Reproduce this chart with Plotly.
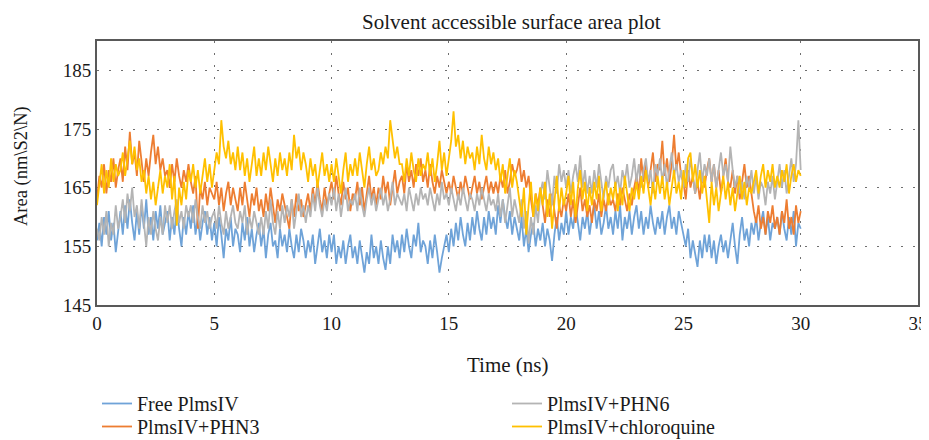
import plotly.graph_objects as go

free_plmsiv = [
    156, 159, 155, 160, 157, 161, 156, 159, 154, 158,
    161, 157, 162, 158, 163, 159, 156, 161, 157, 162,
    158, 163, 157, 160, 156, 161, 158, 162, 157, 159,
    161, 156, 160, 157, 162, 158, 155, 160, 157, 161,
    158, 162, 157, 160, 156, 159, 161, 157, 160, 156,
    159, 155, 160, 157, 153, 158, 156, 160, 155, 158,
    157, 154, 159, 156, 160, 155, 158, 154, 157, 159,
    155, 158, 153, 157, 159, 155, 156, 153, 158, 155,
    157, 154, 158, 155, 153, 157, 154, 158, 156, 153,
    156, 154, 157, 152, 155, 158, 154, 156, 153, 157,
    154, 157, 152, 155, 153, 156, 152, 155, 157, 153,
    155, 152, 156, 153, 150.5, 154, 152, 157, 153, 155,
    152, 156, 153, 151, 155, 152, 157, 154, 156, 153,
    157, 154, 158, 155, 153, 157, 155, 159, 154, 156,
    155, 152, 156, 153, 157, 154, 150.5, 153, 155, 157,
    154, 158, 155, 159, 156, 160, 157, 155, 159, 156,
    160, 157, 161, 158, 156, 160, 157, 161, 158, 160,
    157, 162, 159, 163, 160, 158, 161, 157, 160, 158,
    156, 160, 155, 158, 154, 157, 159, 155, 158, 156,
    159, 155, 158, 156, 152.5, 157, 160, 156, 159, 157,
    161, 157, 160, 158, 162, 159, 156, 160, 158, 161,
    157, 160, 162, 158, 161, 157, 159, 162, 158, 160,
    157, 161, 158, 162, 156, 160, 158, 161, 157, 160,
    162, 158, 161, 157, 160, 158, 162, 159, 157, 160,
    158, 161, 157, 160, 162, 158, 160, 157, 161, 159,
    157, 155, 158, 153, 156, 154, 151.5, 156, 153, 157,
    154, 157, 153, 156, 152, 155, 157, 154, 156, 153,
    156, 159, 155, 152, 157, 160, 156, 158, 155, 159,
    157, 160, 156, 159, 161, 157, 160, 156, 159, 158,
    160, 157, 161, 158, 156, 160, 157, 161, 155, 159,
    158,
]
plmsiv_phn3 = [
    163, 167, 165, 169, 164, 168, 166, 170, 165, 168,
    170, 166, 172, 168, 174.5, 169, 171, 167, 173, 169,
    166, 170, 167, 171, 174, 169, 172, 168, 170, 167,
    168, 165, 169, 166, 170, 167, 165, 168, 166, 169,
    166, 164, 167, 158, 165, 163, 166, 162, 165, 164,
    163, 166, 162, 165, 161, 164, 166, 162, 165, 163,
    161, 165, 162, 166, 163, 160, 164, 162, 165, 161,
    163, 160, 164, 161, 165, 162, 159, 163, 161, 164,
    162, 160, 158, 163, 160, 164, 161, 163, 160, 162,
    164, 161, 165, 162, 166, 163, 161, 165, 162, 164,
    166, 163, 167, 164, 162, 166, 163, 165, 161, 164,
    163, 166, 162, 165, 161, 164, 167, 163, 165, 162,
    165, 163, 167, 164, 166, 162, 165, 168, 164, 166,
    167, 164, 169, 166, 168, 165, 169, 167, 170, 166,
    168, 165, 169, 166, 164, 167, 165, 168, 166, 164,
    166, 164, 167, 165, 163, 166, 164, 167, 165, 163,
    165, 167, 164, 166, 163, 165, 167, 164, 166, 164,
    166, 164, 167, 165, 168, 164, 166, 169, 167, 168,
    170, 166, 168, 165, 167, 163, 160, 164, 162, 165,
    162, 159, 163, 160, 164, 161, 158, 162, 160, 163,
    161, 164, 160, 163, 159, 162, 165, 161, 163, 160,
    162, 159, 163, 161, 164, 160, 163, 161, 164, 162,
    163, 161, 164, 162, 165, 163, 161, 164, 162, 165,
    167, 164, 170, 166, 169, 165, 168, 171, 166, 169,
    168, 173, 167, 170, 166, 169, 174, 168, 171, 167,
    166, 163, 168, 165, 167, 164, 166, 163, 167, 165,
    168, 170, 166, 169, 165, 168, 164, 167, 170, 166,
    165, 168, 164, 167, 163, 166, 169, 165, 167, 164,
    161, 159, 162, 158, 160, 157, 161, 159, 162, 158,
    160, 157, 161, 159, 163, 158, 160, 157, 162, 159,
    161,
]
plmsiv_phn6 = [
    158, 156, 160, 157, 161, 155, 159, 157, 162, 158,
    160, 163, 159, 164, 161, 165, 160, 162, 158, 163,
    159, 155, 160, 157, 161, 158, 156, 160, 157, 162,
    159, 162, 158, 161, 163, 159, 161, 158, 162, 160,
    162, 159, 163, 160, 158, 162, 159, 161, 158, 160,
    161, 158, 162, 159, 157, 161, 158, 160, 162, 159,
    158, 161, 159, 162, 157, 160, 158, 161, 159, 157,
    160, 157, 161, 158, 163, 159, 157, 161, 158, 162,
    159, 162, 160, 163, 158, 161, 164, 160, 162, 159,
    162, 160, 164, 161, 165, 162, 160, 163, 161, 164,
    162, 165, 161, 164, 160, 163, 165, 161, 163, 162,
    164, 161, 165, 162, 160, 163, 165, 162, 164, 161,
    163, 165, 162, 164, 161, 163, 166, 162, 164, 163,
    162, 164, 161, 165, 163, 161, 164, 162, 165, 163,
    164, 162, 165, 163, 161, 164, 162, 166, 163, 164,
    162, 165, 163, 161, 164, 162, 165, 163, 161, 164,
    163, 161, 164, 162, 165, 163, 161, 164, 162, 163,
    161, 164, 160, 163, 159, 162, 165, 160, 163, 161,
    159, 163, 158, 161, 155.5, 160, 157, 162, 159, 164,
    166, 163, 168, 165, 162, 167, 164, 169, 166, 168,
    165, 168, 164, 167, 169, 166, 170.5, 165, 168, 164,
    167, 164, 168, 165, 169, 166, 163, 167, 165, 168,
    169, 165, 167, 164, 168, 166, 169, 165, 167, 170,
    166, 169, 165, 168, 170, 166, 168, 164, 169, 167,
    170, 166, 169, 165, 168, 171, 167, 169, 166, 168,
    165, 169, 166, 170, 167, 164, 168, 171, 166, 169,
    167, 170, 166, 169, 165, 168, 171, 167, 169, 166,
    172, 168, 165, 167, 164, 166, 163, 167, 165, 168,
    164, 167, 163, 166, 165, 162, 166, 164, 167, 163,
    166, 169, 165, 168, 164, 167, 170, 166, 169, 176.5,
    168,
]
plmsiv_chloroquine = [
    162, 166, 169, 164, 168, 165, 170, 166, 169, 167,
    168, 171, 167, 170, 173, 169, 172, 168, 170, 166,
    168, 164, 167, 163, 166, 162, 165, 168, 164, 167,
    165, 169, 163, 167, 158.5, 165, 162, 166, 163, 168,
    166, 169, 165, 168, 164, 167, 170, 166, 169, 165,
    168, 171, 169, 176.5, 172, 170, 173, 169, 171, 168,
    172, 168, 171, 167, 170, 166, 169, 172, 167, 170,
    167, 171, 168, 172, 169, 166, 170, 167, 171, 168,
    170, 167, 171, 168, 174, 170, 172, 168, 171, 169,
    166, 170, 167, 169, 165, 168, 171, 167, 169, 166,
    169, 166, 170, 167, 164, 168, 171, 166, 169, 167,
    170, 167, 171, 168, 165, 169, 172, 168, 170, 167,
    168, 171, 169, 172, 170, 176.5, 173, 170, 172, 169,
    169, 166, 170, 167, 171, 168, 166, 170, 167, 169,
    168, 171, 167, 170, 166, 169, 173, 168, 171, 167,
    170, 173, 178, 172, 174, 170, 173, 169, 172, 170,
    171, 168, 172, 169, 174, 170, 168, 172, 169, 171,
    168, 170, 166, 169, 164, 167, 170, 165, 168, 166,
    163, 160, 165, 157, 162, 166, 160, 164, 161, 165,
    162, 166, 160, 164, 158, 163, 167, 161, 165, 162,
    164, 167, 162, 166, 160, 165, 168, 163, 166, 161,
    165, 162, 166, 163, 167, 161, 164, 166, 162, 165,
    163, 166, 161, 165, 162, 167, 164, 161, 165, 163,
    166, 163, 167, 164, 168, 165, 162, 166, 163, 167,
    164, 167, 163, 166, 162, 165, 168, 164, 166, 163,
    168, 165, 170, 171, 166, 169, 165, 168, 164, 167,
    163, 159, 166, 162, 165, 161, 164, 167, 163, 166,
    162, 165, 161, 164, 167, 163, 166, 162, 165, 164,
    166, 168, 164, 167, 169, 165, 168, 166, 169, 165,
    167, 165, 168, 166, 169, 164, 167, 169, 166, 168,
    167,
]
time_ns = [i / 10 for i in range(len(free_plmsiv))]

FONT = "Liberation Serif"
TXT = "#1a1a1a"

# the page body adds an 8px margin, so the figure is 8px smaller on each axis
W, H = 921, 432

# drawing order: blue, orange, gray, yellow (yellow on top); each has its own legend box
series = [
    ("Free PlmsIV", free_plmsiv, "#6FA3D8", "legend"),
    ("PlmsIV+PHN3", plmsiv_phn3, "#ED7D31", "legend2"),
    ("PlmsIV+PHN6", plmsiv_phn6, "#B4B4B4", "legend3"),
    ("PlmsIV+chloroquine", plmsiv_chloroquine, "#FFC000", "legend4"),
]

fig = go.Figure()
for name, vals, col, leg in series:
    fig.add_trace(go.Scatter(
        x=time_ns, y=vals, name=name, mode="lines",
        line=dict(color=col, width=1.8), legend=leg,
    ))

axis_common = dict(
    showline=True, mirror=True, linecolor="#595959", linewidth=2,
    showgrid=True, gridcolor="#6F6F6F", griddash="2px,10px", gridwidth=1.2,
    zeroline=False, ticks="", automargin=False,
    tickfont=dict(family=FONT, size=19, color=TXT),
)


def legend_box(left_px, top_px):
    return dict(x=(left_px - 89) / 821, y=1 - top_px / H, xref="paper", yref="container",
                xanchor="left", yanchor="top", orientation="v", bgcolor="rgba(0,0,0,0)",
                font=dict(family=FONT, size=20, color=TXT))


fig.update_layout(
    width=W, height=H,
    margin=dict(l=89, r=11, t=33, b=135),
    paper_bgcolor="white", plot_bgcolor="white",
    font=dict(family=FONT, size=20, color=TXT),
    title=dict(text="Solvent accessible surface area plot", x=0.5465, xanchor="center",
               y=1 - 14 / H, yanchor="middle", font=dict(family=FONT, size=21, color=TXT)),
    xaxis=dict(range=[0, 35], dtick=5, tick0=0, ticklabeloverflow="allow", **axis_common),
    yaxis=dict(range=[145, 190], dtick=10, tick0=145, **axis_common),
    annotations=[
        dict(text="Time (ns)", xref="paper", yref="paper", x=0.5, y=(297 - 357) / 264,
             xanchor="center", yanchor="middle", showarrow=False,
             font=dict(family=FONT, size=21, color=TXT)),
        dict(text="Area (nm\\S2\\N)", xref="paper", yref="paper", x=(13 - 89) / 821,
             y=(297 - 158) / 264, textangle=-90, xanchor="center", yanchor="middle",
             showarrow=False, font=dict(family=FONT, size=18.5, color=TXT)),
    ],
    legend=legend_box(89, 376),
    legend2=legend_box(89, 399),
    legend3=legend_box(499, 376),
    legend4=legend_box(499, 399),
    showlegend=True,
)

fig.write_html("out.html")
